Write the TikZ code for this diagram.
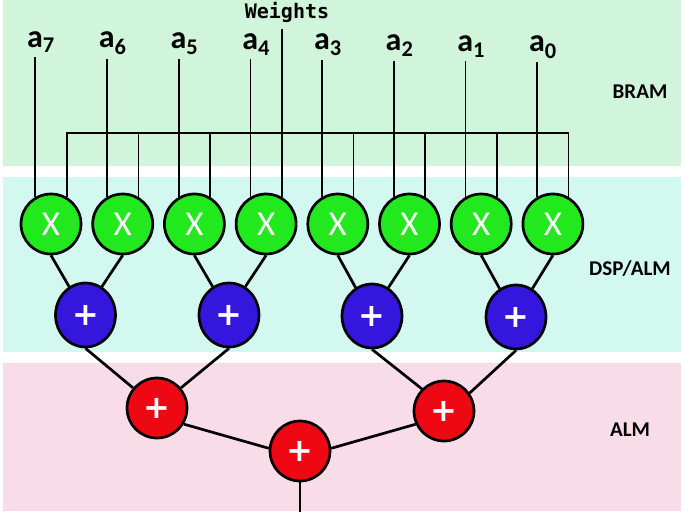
\documentclass[tikz,border=0pt]{standalone}
\usepackage{fontspec}
\setmainfont{Carlito}
\newfontfamily\monofont{DejaVu Sans Mono}
\newfontfamily\plusfont{DejaVu Sans}
\usepackage{tikz}
\usetikzlibrary{positioning,shapes.geometric}

\definecolor{bramgreen}{RGB}{208,245,218}
\definecolor{dspcyan}{RGB}{210,248,240}
\definecolor{almpink}{RGB}{248,221,232}
\definecolor{mulgreen}{RGB}{34,232,30}
\definecolor{addblue}{RGB}{52,22,220}
\definecolor{addred}{RGB}{238,8,20}

\tikzset{
  unit/.style={ellipse, draw=black, line width=2.7pt, minimum width=60pt,
    minimum height=60pt, inner sep=0pt, text=white},
  mul/.style={unit, fill=mulgreen, font=\fontsize{35}{35}\selectfont},
  addb/.style={unit, fill=addblue, minimum height=64pt,
    font=\plusfont\bfseries\fontsize{32}{32}\selectfont},
  addr/.style={unit, fill=addred,
    font=\plusfont\bfseries\fontsize{32}{32}\selectfont},
  wire/.style={line width=1.7pt},
  link/.style={line width=2.7pt},
  lbl/.style={font=\bfseries\fontsize{32}{32}\selectfont, inner xsep=0pt,
    inner ysep=4pt, anchor=base west},
  layer/.style={font=\bfseries\fontsize{21}{21}\selectfont}
}

\begin{document}
\begin{tikzpicture}[x=1pt,y=-1pt]
    \useasboundingbox (0,0) rectangle (685,517);
    % memory / logic bands
    \fill[bramgreen] (3,0) rectangle (681,166);
    \fill[dspcyan] (3,177) rectangle (681,352);
    \fill[almpink] (3,363) rectangle (681,511);
    \node[layer] (bram) at (640,92) {BRAM};
    \node[layer] (dsp) at (630,269) {DSP/ALM};
    \node[layer] (alm) at (630,430) {ALM};

    % multipliers and inputs
    \foreach \i [count=\j from 0] in {7,...,0} {
        \node[mul] (m\i) at ({51+71.7*\j},224) {X};
        \node[lbl] (a\i) at ({27+71.7*\j},{47+0.7*\j}) {a\textsubscript{\i}};
        \draw[wire] (m\i.120) -- (m\i.120 |- a\i.south);
    }
    \node[font=\monofont\bfseries\fontsize{20}{20}\selectfont, inner ysep=6pt] (w) at (287,12.5) {Weights};
    \coordinate (bus) at (0,133);
    \draw[wire] (m7.60) |- (bus -| m0.60) -- (m0.60);
    \foreach \i in {6,5,3,2,1}
        \draw[wire] (m\i.60) -- (m\i.60 |- bus);
    \draw[wire] (m4.60) -- (m4.60 |- w.south);

    % adder tree
    \node[addb] (add1) at (85.5,315) {+};
    \node[addb] (add2) at (229,315) {+};
    \node[addb] (add3) at (372,316) {+};
    \node[addb] (add4) at (516,317) {+};
    \node[addr] (add12) at (157,408) {+};
    \node[addr] (add34) at (444,411) {+};
    \node[addr] (sum) at (300,451) {+};
    \coordinate (out) at (300,512);

    \foreach \l/\r/\a in {7/6/1,5/4/2,3/2/3,1/0/4} {
        \draw[link] (m\l.south) -- (add\a.120);
        \draw[link] (m\r.south) -- (add\a.60);
    }
    \draw[link] (add1.south) -- (add12.140);
    \draw[link] (add2.south) -- (add12.40);
    \draw[link] (add3.south) -- (add34.135);
    \draw[link] (add4.south) -- (add34.35);
    \draw[link] (add12.-31) -- (sum.175);
    \draw[link] (add34.205) -- (sum.5);
    \draw[link] (sum.south) -- (out);
\end{tikzpicture}
\end{document}
